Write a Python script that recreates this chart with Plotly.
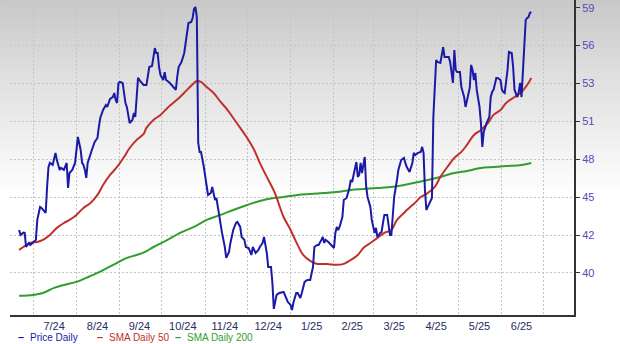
import numpy as np
import plotly.graph_objects as go

# ---------------- data ----------------
price_dates = [
 "2024-06-21","2024-06-22","2024-06-24","2024-06-25","2024-06-26","2024-06-28","2024-06-29",
 "2024-07-01","2024-07-03","2024-07-04","2024-07-06","2024-07-07","2024-07-10","2024-07-11",
 "2024-07-12","2024-07-13","2024-07-15","2024-07-17","2024-07-18","2024-07-20","2024-07-21",
 "2024-07-23","2024-07-25","2024-07-26","2024-07-27","2024-07-29","2024-07-31",
 "2024-08-02","2024-08-04","2024-08-05","2024-08-06","2024-08-07","2024-08-08","2024-08-09",
 "2024-08-10","2024-08-12","2024-08-14","2024-08-16","2024-08-17","2024-08-18","2024-08-20",
 "2024-08-22","2024-08-23","2024-08-24","2024-08-25","2024-08-27","2024-08-28","2024-08-29",
 "2024-08-30","2024-08-31",
 "2024-09-01","2024-09-03","2024-09-05","2024-09-06","2024-09-08","2024-09-10","2024-09-11",
 "2024-09-12","2024-09-13","2024-09-14","2024-09-16","2024-09-18","2024-09-20","2024-09-22",
 "2024-09-24","2024-09-25","2024-09-26","2024-09-27","2024-09-28","2024-09-29","2024-09-30",
 "2024-10-02","2024-10-03","2024-10-04","2024-10-06","2024-10-08","2024-10-09","2024-10-11",
 "2024-10-12","2024-10-13","2024-10-15","2024-10-17","2024-10-18","2024-10-19","2024-10-20",
 "2024-10-22","2024-10-23","2024-10-24","2024-10-25","2024-10-26","2024-10-27","2024-10-28",
 "2024-10-29","2024-10-31",
 "2024-11-02","2024-11-03","2024-11-05","2024-11-06","2024-11-08","2024-11-09","2024-11-10",
 "2024-11-11","2024-11-13","2024-11-15","2024-11-16","2024-11-18","2024-11-19","2024-11-21",
 "2024-11-23","2024-11-24","2024-11-26","2024-11-27","2024-11-29","2024-11-30",
 "2024-12-02","2024-12-04","2024-12-05","2024-12-07","2024-12-09","2024-12-10","2024-12-12",
 "2024-12-13","2024-12-15","2024-12-16","2024-12-18","2024-12-19","2024-12-20","2024-12-22",
 "2024-12-24","2024-12-27","2024-12-28","2024-12-30",
 "2025-01-01","2025-01-02","2025-01-03","2025-01-05","2025-01-06","2025-01-08","2025-01-09",
 "2025-01-11","2025-01-13","2025-01-15","2025-01-17","2025-01-18","2025-01-20","2025-01-21",
 "2025-01-23","2025-01-24","2025-01-25","2025-01-26","2025-01-28","2025-01-30",
 "2025-02-01","2025-02-02","2025-02-03","2025-02-04","2025-02-05","2025-02-07","2025-02-08",
 "2025-02-10","2025-02-12","2025-02-13","2025-02-14","2025-02-15","2025-02-17","2025-02-18",
 "2025-02-19","2025-02-20","2025-02-21","2025-02-23","2025-02-24","2025-02-25","2025-02-27",
 "2025-02-28",
 "2025-03-02","2025-03-03","2025-03-04","2025-03-06","2025-03-07","2025-03-08","2025-03-09",
 "2025-03-11","2025-03-12","2025-03-13","2025-03-14","2025-03-15","2025-03-16","2025-03-18",
 "2025-03-19","2025-03-21","2025-03-23","2025-03-24","2025-03-25","2025-03-27","2025-03-29",
 "2025-03-30","2025-03-31",
 "2025-04-02","2025-04-04","2025-04-05","2025-04-06","2025-04-07","2025-04-08","2025-04-09",
 "2025-04-11","2025-04-12","2025-04-13","2025-04-15","2025-04-16","2025-04-18","2025-04-20",
 "2025-04-21","2025-04-23","2025-04-24","2025-04-25","2025-04-27","2025-04-28","2025-04-29",
 "2025-04-30",
 "2025-05-02","2025-05-03","2025-05-05","2025-05-06","2025-05-07","2025-05-09","2025-05-10",
 "2025-05-11","2025-05-12","2025-05-13","2025-05-14","2025-05-16","2025-05-17","2025-05-18",
 "2025-05-19","2025-05-21","2025-05-23","2025-05-24","2025-05-25","2025-05-26","2025-05-28",
 "2025-05-29","2025-05-31",
 "2025-06-01","2025-06-02","2025-06-03","2025-06-05","2025-06-06","2025-06-08","2025-06-09",
 "2025-06-10","2025-06-12","2025-06-13","2025-06-14","2025-06-15","2025-06-17","2025-06-18",
 "2025-06-19","2025-06-20","2025-06-21","2025-06-22",
]
price_values = [
 43.08,42.72,42.89,42.87,41.86,42.15,42.01,
 42.22,42.37,43.80,44.73,44.66,44.30,46.16,
 47.59,47.88,47.74,48.60,48.09,47.38,47.52,
 47.38,47.88,46.09,47.16,47.38,47.88,
 49.74,48.81,47.88,47.74,47.38,46.81,47.88,
 48.24,48.81,49.38,49.67,50.46,51.10,51.67,
 52.03,51.89,52.25,52.46,52.60,52.89,52.39,
 52.17,53.61,
 53.68,53.61,52.17,51.89,50.74,50.96,51.46,
 51.17,52.39,53.97,53.68,53.46,53.46,54.75,
 54.82,55.40,56.11,55.76,55.76,54.75,54.18,
 53.82,54.39,53.82,53.68,53.46,53.32,53.11,
 54.04,54.75,55.11,55.76,56.47,57.04,57.90,
 57.97,58.26,58.91,59.05,58.33,49.31,48.67,
 48.67,47.59,
 46.16,45.59,45.73,46.16,45.23,45.37,44.73,
 44.01,42.87,41.86,41.08,41.51,42.15,43.08,
 43.58,43.65,43.30,42.58,42.37,41.86,
 41.79,41.29,41.86,41.43,41.65,41.86,42.15,
 42.58,41.43,40.43,40.43,39.29,37.43,38.43,
 38.57,38.64,38.43,37.93,
 37.71,37.35,37.86,38.57,38.57,38.21,38.57,
 39.36,39.50,39.50,40.43,41.86,42.01,42.01,
 42.37,42.58,42.15,42.37,42.22,42.01,
 41.79,42.87,43.30,43.08,43.30,44.01,45.23,
 45.37,46.09,46.66,46.52,47.02,47.95,46.88,
 47.02,47.88,47.16,48.31,46.16,45.44,44.73,
 43.80,
 42.87,43.23,42.58,42.87,42.94,43.58,44.16,
 44.16,43.30,42.72,42.72,43.80,45.44,46.66,
 47.38,48.09,48.24,47.88,47.59,47.24,47.88,
 48.60,48.45,
 48.60,48.67,49.03,48.60,45.95,44.51,44.73,
 45.09,45.37,51.17,55.25,55.11,55.04,56.18,
 55.47,55.47,55.47,55.11,53.61,55.97,54.54,
 54.39,
 54.39,53.32,52.60,51.89,52.39,53.25,54.90,
 54.54,53.82,54.32,53.11,51.89,50.74,49.03,
 50.10,50.74,51.17,52.60,52.96,53.11,53.97,
 53.97,53.82,
 53.11,52.96,52.89,54.54,55.83,55.76,54.75,
 53.11,52.60,52.96,53.61,52.60,55.76,58.12,
 58.26,58.33,58.62,58.69,
]

sma50_dates = [
 "2024-06-21","2024-06-24","2024-06-29","2024-07-04","2024-07-08","2024-07-13","2024-07-18",
 "2024-07-23","2024-07-27","2024-08-01","2024-08-06","2024-08-11","2024-08-16","2024-08-20",
 "2024-08-25","2024-08-30","2024-09-04","2024-09-08","2024-09-13","2024-09-18","2024-09-20",
 "2024-09-25","2024-09-30","2024-10-05","2024-10-09","2024-10-14","2024-10-19","2024-10-24",
 "2024-10-26","2024-10-29","2024-11-02","2024-11-07","2024-11-12","2024-11-17","2024-11-21",
 "2024-11-26","2024-12-01","2024-12-06","2024-12-10","2024-12-15","2024-12-20","2024-12-22",
 "2024-12-27","2025-01-01","2025-01-06","2025-01-10","2025-01-15","2025-01-20","2025-01-27",
 "2025-02-03","2025-02-08","2025-02-13","2025-02-18","2025-02-22","2025-02-27","2025-03-04",
 "2025-03-09","2025-03-14","2025-03-18","2025-03-23","2025-03-25","2025-03-30","2025-04-04",
 "2025-04-09","2025-04-14","2025-04-18","2025-04-23","2025-04-28","2025-05-03","2025-05-07",
 "2025-05-12","2025-05-17","2025-05-22","2025-05-26","2025-05-31","2025-06-04","2025-06-10",
 "2025-06-15","2025-06-19","2025-06-22",
]
sma50_values = [
 41.65,41.86,42.15,42.22,42.37,42.72,43.23,
 43.58,43.80,44.16,44.66,45.01,45.59,46.30,
 47.02,47.59,48.31,48.95,49.53,49.96,50.39,
 50.96,51.32,51.82,52.17,52.60,53.11,53.61,
 53.75,53.68,53.32,52.89,52.25,51.67,51.10,
 50.39,49.67,48.81,47.88,46.88,45.90,45.40,
 44.01,43.08,42.01,41.29,40.86,40.65,40.65,
 40.58,40.65,40.93,41.29,41.79,42.15,42.51,
 42.87,43.08,43.80,44.30,44.51,44.94,45.44,
 45.73,46.16,46.88,47.59,48.24,48.67,49.17,
 49.88,50.24,50.74,51.32,51.67,52.17,52.60,
 52.96,53.46,53.97,
]

sma200_dates = [
 "2024-06-21","2024-07-01","2024-07-08","2024-07-16","2024-07-23","2024-08-01","2024-08-08",
 "2024-08-16","2024-08-23","2024-08-30","2024-09-06","2024-09-13","2024-09-19","2024-09-25",
 "2024-10-05","2024-10-14","2024-10-24","2024-11-02","2024-11-12","2024-11-21","2024-12-01",
 "2024-12-10","2024-12-20","2024-12-27","2025-01-06","2025-01-15","2025-01-25","2025-02-03",
 "2025-02-13","2025-02-22","2025-03-04","2025-03-14","2025-03-23","2025-03-30","2025-04-09",
 "2025-04-18","2025-04-28","2025-05-07","2025-05-17","2025-05-26","2025-06-04","2025-06-15",
 "2025-06-22",
]
sma200_values = [
 38.36,38.43,38.57,38.93,39.14,39.36,39.65,
 40.00,40.36,40.72,41.08,41.29,41.51,41.86,
 42.37,42.87,43.30,43.80,44.16,44.51,44.87,
 45.16,45.37,45.44,45.59,45.66,45.73,45.80,
 45.95,46.02,46.09,46.16,46.30,46.45,46.66,
 46.88,47.16,47.31,47.52,47.59,47.66,47.74,
 47.88,
]

# month label positions (mid-month) and labels
month_mids = ["2024-07-16","2024-08-16","2024-09-15","2024-10-16","2024-11-15","2024-12-16",
              "2025-01-16","2025-02-14","2025-03-16","2025-04-15","2025-05-16","2025-06-15"]
month_labels = ["7/24","8/24","9/24","10/24","11/24","12/24","1/25","2/25","3/25","4/25",
                "5/25","6/25"]

y_ticks = list(np.linspace(40, 59, 8))
y_labels = ["40", "42", "45", "48", "51", "53", "56", "59"]

series_names = ["Price Daily", "SMA Daily 50", "SMA Daily 200"]
series_colors = ["#1a1aa6", "#c0302a", "#2f9e2f"]

FONT = "Liberation Sans, Arial"

# ---------------- figure ----------------
fig = go.Figure()
fig.add_trace(go.Scatter(x=sma200_dates, y=sma200_values, mode="lines",
                         line=dict(color=series_colors[2], width=2, shape="spline"),
                         name=series_names[2], showlegend=False))
fig.add_trace(go.Scatter(x=sma50_dates, y=sma50_values, mode="lines",
                         line=dict(color=series_colors[1], width=2, shape="spline"),
                         name=series_names[1], showlegend=False))
fig.add_trace(go.Scatter(x=price_dates, y=price_values, mode="lines",
                         line=dict(color=series_colors[0], width=2),
                         name=series_names[0], showlegend=False))

# gradient background (grey at top fading to white)
shapes = []
n = 60
top_c = np.array([200, 200, 200])
for i in range(n):
    t0 = i / n
    y1 = 1.0 - t0 * 0.62
    y0 = 1.0 - (i + 1) / n * 0.62
    c = top_c + (255 - top_c) * (t0 ** 0.9)
    shapes.append(dict(type="rect", xref="paper", yref="paper", x0=-0.05, x1=1.2,
                       y0=y0, y1=y1 + 0.002, line=dict(width=0),
                       fillcolor="rgb(%d,%d,%d)" % tuple(c.astype(int)), layer="below"))

# legend as text: a short dash marker followed by the coloured name
annotations = []
dash_px = [16, 95, 173]
text_px = [28, 107, 185]
PW = 564.0
for name, col, dx, tx in zip(series_names, series_colors, dash_px, text_px):
    annotations.append(dict(xref="paper", yref="paper", x=(dx - 10) / PW, y=-22 / 315,
                            xanchor="left", yanchor="middle", showarrow=False,
                            text="<b>–</b>", font=dict(family=FONT, size=11, color=col)))
    annotations.append(dict(xref="paper", yref="paper", x=(tx - 10) / PW, y=-22 / 315,
                            xanchor="left", yanchor="middle", showarrow=False,
                            text=name, font=dict(family=FONT, size=10, color=col)))

fig.update_layout(
    width=620, height=344,
    margin=dict(l=10, r=46, t=0, b=29),
    paper_bgcolor="white", plot_bgcolor="rgba(0,0,0,0)",
    shapes=shapes, annotations=annotations, showlegend=False,
    xaxis=dict(type="date", range=["2024-06-14 12:00", "2025-07-22 12:00"],
               tickmode="array", tickvals=month_mids, ticktext=month_labels,
               showgrid=False, showline=True, linecolor="#333333",
               linewidth=2, ticks="", zeroline=False, ticklabelstandoff=0,
               minor=dict(dtick="M1", tick0="2024-07-01", showgrid=True,
                          gridcolor="#c4c4c4", griddash="2px,2px", gridwidth=1, ticks=""),
               tickfont=dict(family=FONT, size=11, color="#2b2b5e")),
    yaxis=dict(side="right", range=[36.99, 59.55], tickmode="array", tickvals=y_ticks,
               ticktext=y_labels, showgrid=True, gridcolor="#c4c4c4", griddash="2px,2px",
               gridwidth=1, showline=True, linecolor="#333333", linewidth=2,
               ticks="outside", ticklen=4, tickcolor="#333333", zeroline=False,
               tickfont=dict(family=FONT, size=11, color="#5549bd")),
)

fig.write_html("out.html")
